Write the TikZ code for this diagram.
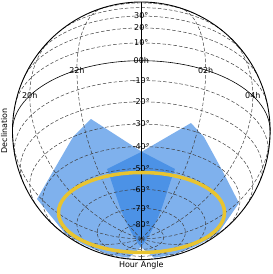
\documentclass[tikz,border=0pt]{standalone}
\usepackage{fontspec}
\setmainfont{DejaVu Sans}
\usepackage{tikz}
\usetikzlibrary{positioning}
\usepackage{xcolor}
\definecolor{fovblue}{RGB}{42,125,225}
\definecolor{ringgold}{RGB}{232,196,48}

\begin{document}
\begin{tikzpicture}[x=1pt, y=1pt, font=\fontsize{8}{9.6}\selectfont,
    declare function={skyx(\ha,\dc)=128.8*cos(\dc)*sin(\ha);
                      skyy(\ha,\dc)=128.8*(0.8387*sin(\dc)+0.5446*cos(\dc)*cos(\ha));},
    gridline/.style={black!75, line width=0.5pt, dash pattern=on 3.5pt off 2pt},
    solidline/.style={black, line width=0.6pt},
    fov/.style={fill=fovblue, fill opacity=0.6},
    lab/.style={inner sep=0pt}]
          \useasboundingbox (-141.3,-143.2) rectangle (131.7,130.8);
          % Field 1: east side
          \fill[fov] (-50.3,11.8) -- (0.4,-20.9)
                -- plot[smooth] coordinates {(33.7,-38.2) (29.7,-49.2) (19.7,-79.2) (10.7,-99.2) (4.7,-109.2) (-0.3,-116.2) (-12.4,-126.9)}
                arc[start angle=264.4, end angle=232.8, radius=127.5]
                -- (-104.3,-68.2) -- (-86.3,-37.2) -- (-68.3,-6.2) -- cycle;
          % Field 2: west side
          \fill[fov] (49.7,7.8) -- (0.4,-20.9)
                -- plot[smooth] coordinates {(-34.3,-38.2) (-30.3,-49.2) (-20.3,-79.2) (-11.3,-99.2) (-5.3,-109.2) (-0.3,-116.2) (12.7,-126.9)}
                arc[start angle=275.7, end angle=307.7, radius=127.5]
                -- (97.7,-72.2) -- (80.7,-39.2) -- (62.7,-6.2) -- cycle;
          % Parallels, front half only
          \foreach \decl in {-80,-70,-60,-50,-40,-30,-20,-10,10,20,30,40,50}{
            \pgfmathsetmacro{\lmax}{acos(max(-1,min(1,0.6494*tan(\decl))))}
            \draw[gridline] plot[domain=-\lmax:\lmax, samples=73, variable=\q] ({skyx(\q,\decl)},{skyy(\q,\decl)});
          }
          % Meridians
          \foreach \hr in {30,60,90,120,150,180,-30,-60,-90,-120,-150}{
            \pgfmathsetmacro{\mtop}{min(90,atan2(-0.5446,0.8387*cos(\hr))+90)}
            \draw[gridline] plot[domain=-90:\mtop, samples=61, variable=\q] ({skyx(\hr,\q)},{skyy(\hr,\q)});
          }
          \draw[solidline] plot[domain=-90:90, samples=61, variable=\q] ({skyx(\q,0)},{skyy(\q,0)});
          \draw[solidline] plot[domain=-90:57, samples=31, variable=\q] ({skyx(0,\q)},{skyy(0,\q)});
          \node[circle, draw, line width=0.9pt, minimum size=257.6pt, inner sep=0pt] (sky) at (0,0) {};
          % Labels
          \foreach \decl in {-80,-70,...,30}{
            \ifnum\decl=0\relax\else
              \node[lab] (dec\decl) at ({skyx(0,\decl)},{skyy(0,\decl)}) {\decl°};
            \fi
          }
          \foreach \hr/\txt in {-60/20h,-30/22h,0/00h,30/02h,60/04h}
            \node[lab] (ha\txt) at ({skyx(\hr,0)},{skyy(\hr,0)}) {\txt};
          \draw[ringgold, line width=3.5pt] (0.2,-81.7) ellipse [x radius=83, y radius=40];
          \node[lab, below=1.5pt of sky] (xlab) {Hour Angle};
          \node[lab, rotate=90, anchor=south] (ylab) at ([xshift=-4.5pt]sky.west) {Declination};
        \end{tikzpicture}
\end{document}
